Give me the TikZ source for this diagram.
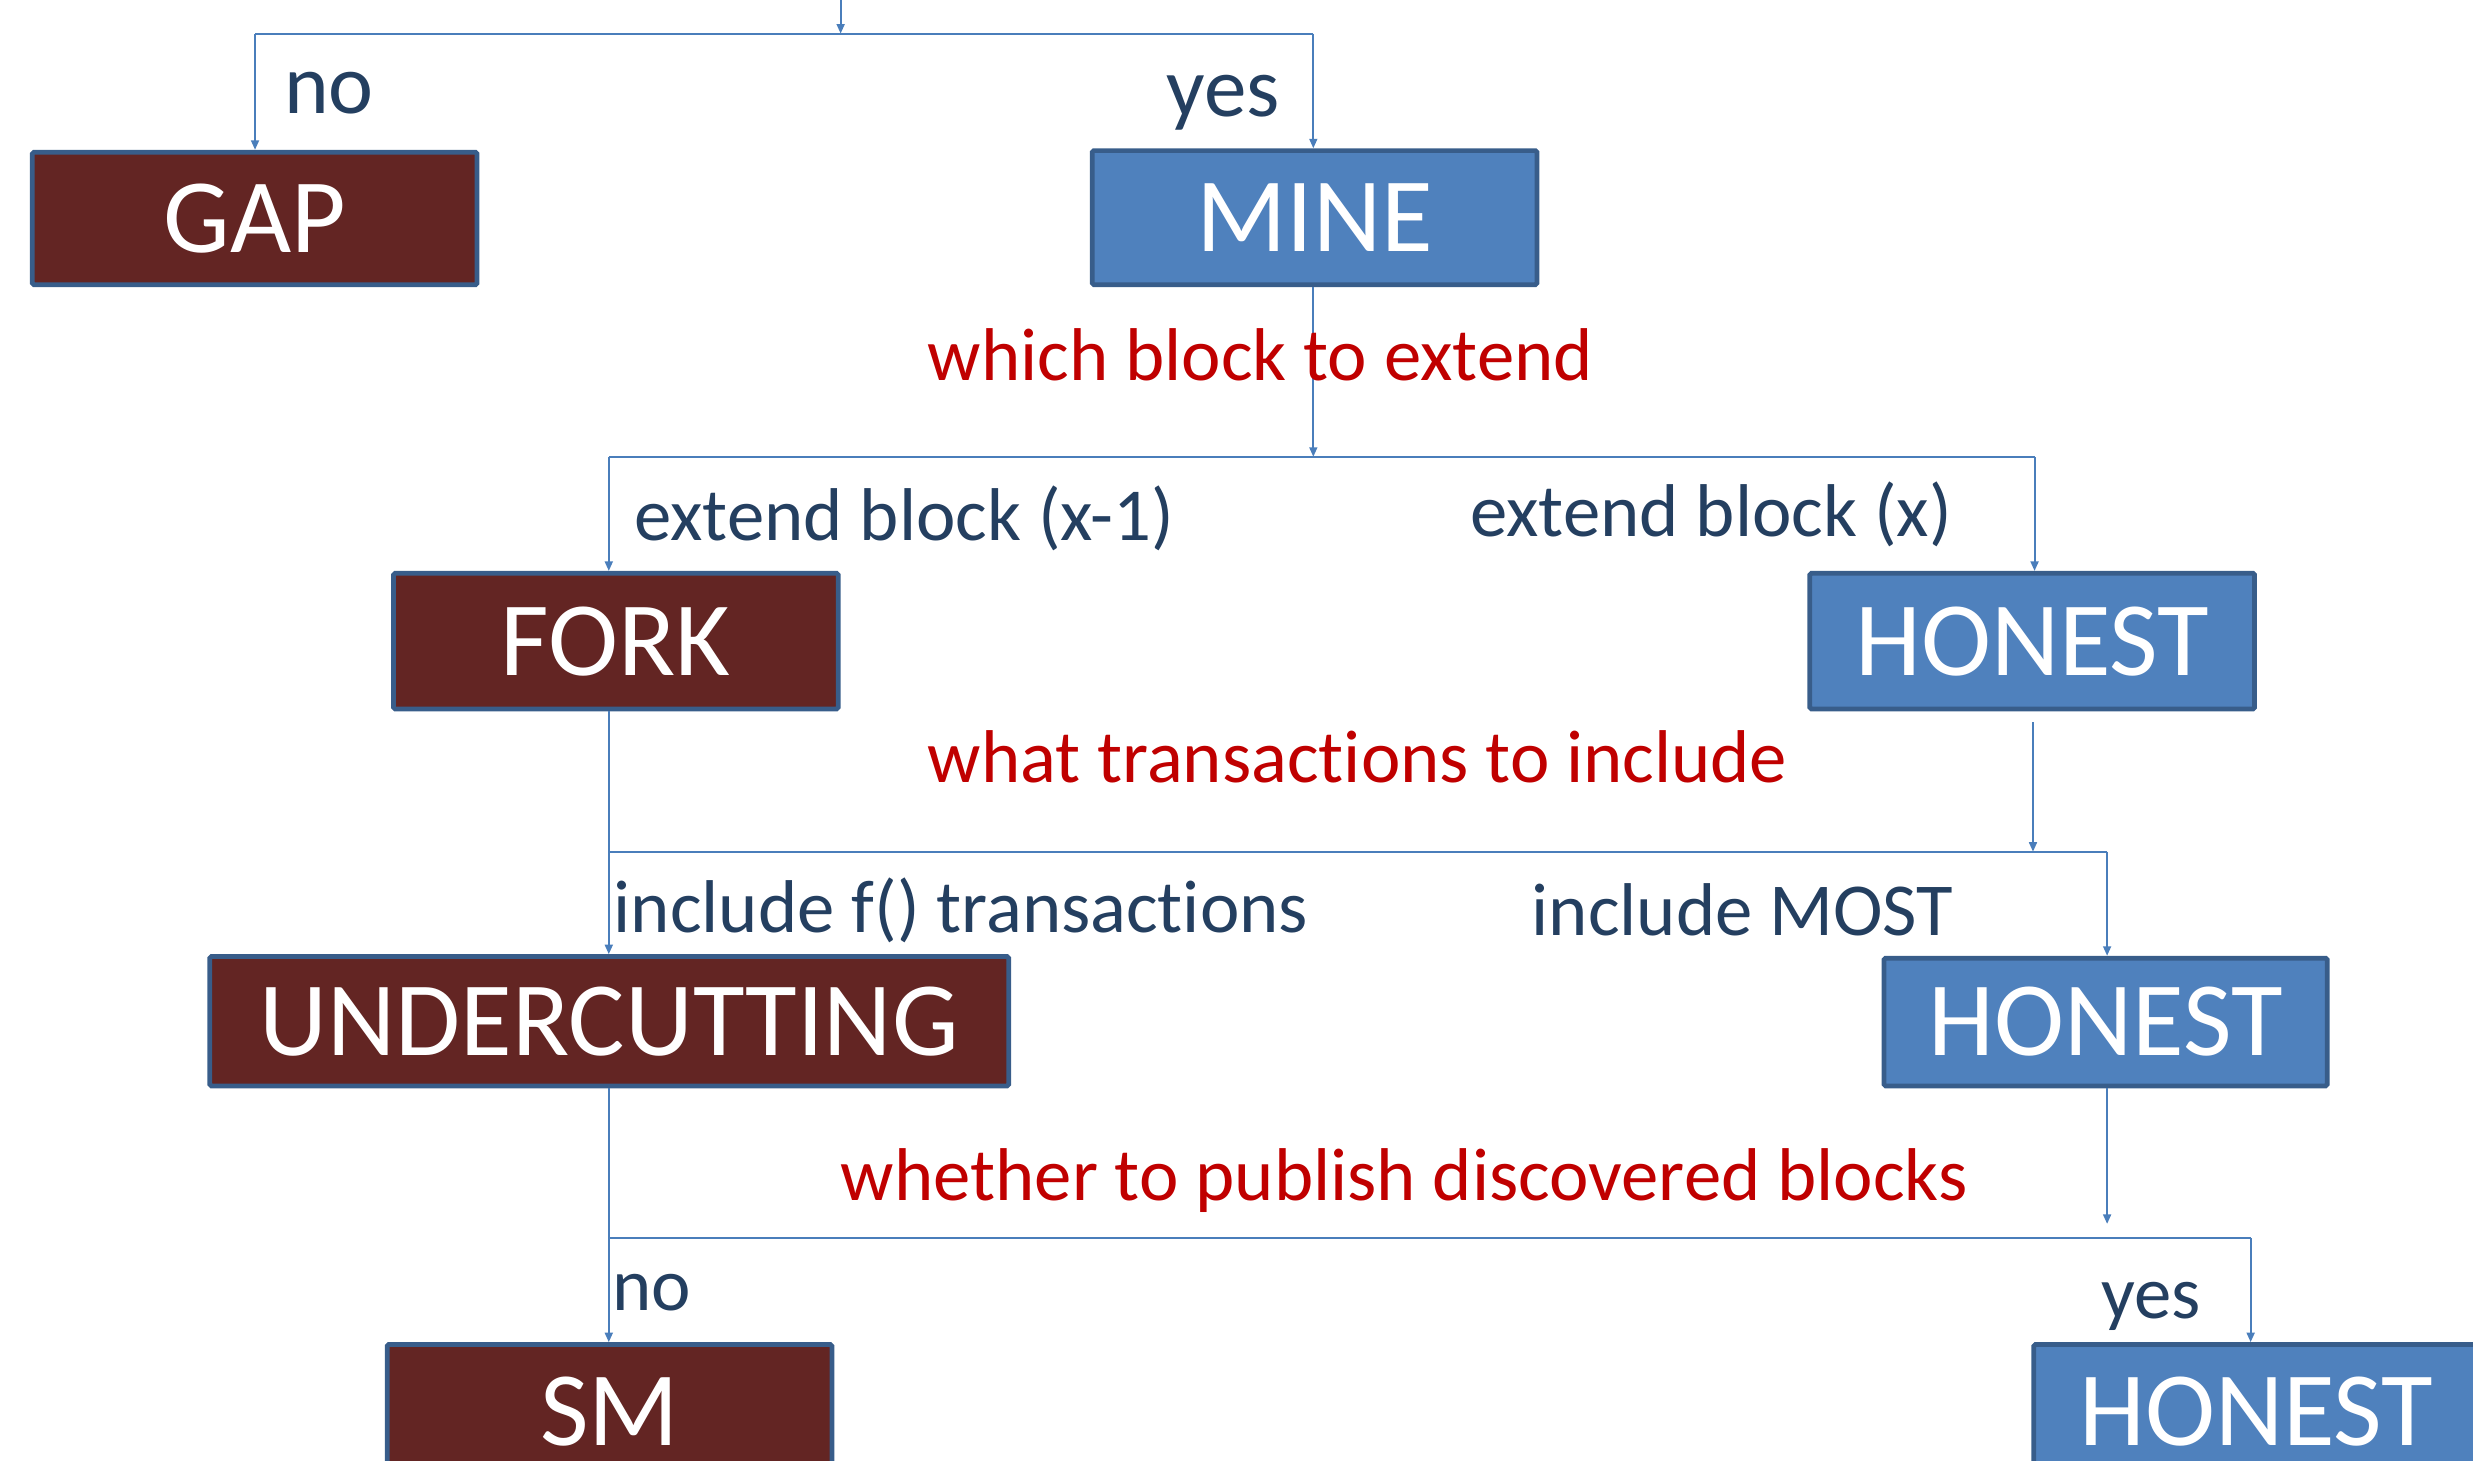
\documentclass[tikz,border=0pt]{standalone}
\usepackage{fontspec}
\setmainfont{Carlito}[Ligatures=NoCommon]
\usetikzlibrary{arrows.meta,calc}
\definecolor{boxred}{HTML}{632523}
\definecolor{boxblue}{HTML}{4F81BD}
\definecolor{boxedge}{HTML}{385D8A}
\definecolor{linkc}{HTML}{4A7EBB}
\definecolor{labc}{HTML}{243F60}
\definecolor{qred}{HTML}{C00000}
\begin{document}
\begin{tikzpicture}[x=1pt,y=-1pt,
  box/.style={draw=boxedge, line width=3pt, rounded corners=1pt, text=white,
    font=\fontsize{67}{70}\selectfont, inner sep=0pt, minimum width=282pt, minimum height=85pt},
  redbox/.style={box, fill=boxred},
  bluebox/.style={box, fill=boxblue},
  conn/.style={draw=linkc, line width=1.2pt},
  arr/.style={conn, -{Triangle[length=6pt,width=5pt]}},
  lab/.style={text=labc, anchor=base west, inner sep=0pt, font=\fontsize{47.4}{50}\selectfont},
  biglab/.style={lab, font=\fontsize{54}{56}\selectfont},
  qlab/.style={lab, text=qred}]
\useasboundingbox (0,0) rectangle (1568,926);
\clip (0,0) rectangle (1568,926);

% boxes
\node[redbox, minimum height=84pt] (gap) at (161.5,138.5) {GAP};
\node[bluebox] (mine) at (833.5,138) {MINE};
\node[redbox, minimum height=86pt] (fork) at (390.5,406.5) {FORK};
\node[bluebox, minimum height=86pt] (hon1) at (1288.5,406.5) {HONEST};
\node[redbox, minimum width=506.5pt, minimum height=82pt] (under) at (386.3,647.5) {UNDERCUTTING};
\node[bluebox, minimum width=281pt, minimum height=81pt] (hon2) at (1335,648) {HONEST};
\node[redbox] (sm) at (386.5,895) {SM};
\node[bluebox] (hon3) at (1430.5,895) {HONEST};

% junction coordinates
\coordinate (top) at (533,0);
\coordinate (j0) at (533,21.3);
\coordinate (j0l) at (161.7,21.3);
\coordinate (j0r) at (832.7,21.3);
\coordinate (j1) at (832.7,289.6);
\coordinate (j1l) at (386,289.6);
\coordinate (j1r) at (1290,289.6);
\coordinate (j2l) at (386,540);
\coordinate (j2m) at (1289,540);
\coordinate (j2r) at (1336,540);
\coordinate (j3l) at (386,785);
\coordinate (j3m) at (1336,776);
\coordinate (j3r) at (1427,785);

% level 0
\draw[arr] (top) -- (j0);
\draw[conn] (j0l) -- (j0r);
\draw[arr] (j0l) -- (j0l |- gap.north);
\draw[arr] (j0r) -- (j0r |- mine.north);
% level 1
\draw[arr] (mine.south -| j1) -- (j1);
\draw[conn] (j1l) -- (j1r);
\draw[arr] (j1l) -- (j1l |- fork.north);
\draw[arr] (j1r) -- (j1r |- hon1.north);
% level 2
\draw[arr] (fork.south -| j2l) -- (j2l |- under.north);
\draw[conn] (j2l) -- (j2r);
\draw[arr] ($(hon1.south -| j2m)+(0,7)$) -- (j2m);
\draw[arr] (j2r) -- (j2r |- hon2.north);
% level 3
\draw[arr] (under.south -| j3l) -- (j3l |- sm.north);
\draw[conn] (j3l) -- (j3r);
\draw[arr] (hon2.south -| j3m) -- (j3m);
\draw[arr] (j3r) -- (j3r |- hon3.north);

% labels
\node[biglab] (tno) at (180,72) {no};
\node[biglab] (tyes) at (739.5,74) {yes};
\node[qlab] (q1) at (588,241) {which block to extend};
\node[lab] (e1) at (402,343) {extend block (x-1)};
\node[lab] (e2) at (932,340) {extend block (x)};
\node[qlab] (q2) at (588,496) {what transactions to include};
\node[lab] (i1) at (389,591) {include f() transactions};
\node[lab] (i2) at (971,593) {include MOST};
\node[qlab] (q3) at (533,761) {whether to publish discovered blocks};
\node[lab] (bno) at (388,831) {no};
\node[lab] (byes) at (1332,836) {yes};
\end{tikzpicture}
\end{document}
